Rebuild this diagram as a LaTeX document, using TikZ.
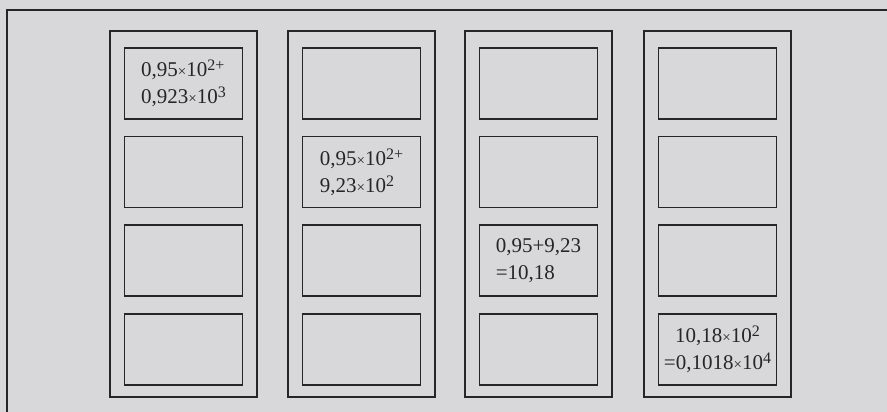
\documentclass[tikz,border=0pt]{standalone}
\usepackage{fontspec}
\setmainfont{Liberation Serif}
\usetikzlibrary{positioning}
\definecolor{paper}{HTML}{D8D8DA}
\definecolor{ink}{HTML}{262626}
\newcommand{\tms}{{\fontsize{15}{15}\selectfont ×}}
\newcommand{\pw}[1]{\raisebox{0.3em}{\fontsize{16}{16}\selectfont #1}}

\begin{document}
\begin{tikzpicture}[x=1pt,y=-1pt,
  frame/.style={draw=ink,line width=1.6pt},
  column/.style={frame,minimum width=147pt,minimum height=366pt,inner sep=0pt},
  cell/.style={frame,minimum width=118pt,minimum height=71pt,inner sep=0pt},
  entry/.style={align=left,text=ink,inner sep=0pt,font=\fontsize{21}{27}\selectfont}]
\useasboundingbox (0,0) rectangle (887,412);
\fill[paper] (0,0) rectangle (887,412);
\draw[frame] (7,412) -- (7,10) -- (887,10);
% four registers, four cells each
\foreach \c/\x in {1/183.5,2/361.5,3/538.5,4/717.5} {
  \node[column] (col\c) at (\x,214) {};
  \node[cell,below=17pt of col\c.north] (box\c1) {};
  \node[cell,below=16pt of box\c1] (box\c2) {};
  \node[cell,below=16pt of box\c2] (box\c3) {};
  \node[cell,below=16pt of box\c3] (box\c4) {};
}
\node[entry] (t1) at (box11) {0,95\tms10\pw{2+}\\0,923\tms10\pw{3}};
\node[entry] (t2) at (box22) {0,95\tms10\pw{2+}\\9,23\tms10\pw{2}};
\node[entry] (t3) at (box33) {0,95+9,23\\=10,18};
\node[entry,align=center] (t4) at (box44) {10,18\tms10\pw{2}\\=0,1018\tms10\pw{4}};
\end{tikzpicture}
\end{document}
